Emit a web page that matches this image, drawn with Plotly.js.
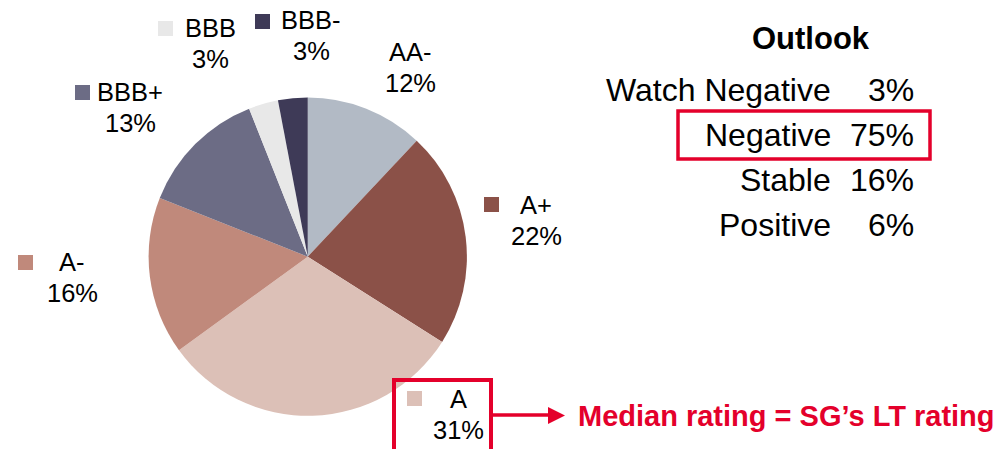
<!DOCTYPE html>
<html>
<head>
<meta charset="utf-8">
<script src="https://cdn.plot.ly/plotly-3.0.1.min.js"></script>
<style>
  html, body { margin: 0; padding: 0; background: #fff; }
  #chart { width: 1001px; height: 449px; }
</style>
</head>
<body>
<div id="chart"></div>
<script>
// Rating breakdown pie + outlook table

const ratings = ['AA-', 'A+', 'A', 'A-', 'BBB+', 'BBB', 'BBB-'];
const shares  = [12, 22, 31, 16, 13, 3, 3];

const outlookNames  = ['Watch Negative', 'Negative', 'Stable', 'Positive'];
const outlookShares = [3, 75, 16, 6];

const medianRating = 'A';
const highlightOutlook = 'Negative';

const sliceColors = ['#b2bac5', '#8b5148', '#dcc0b7', '#c0897b', '#6c6c85', '#e8e8e8', '#3e3a57'];
const RED = '#e4002b';
const FONT = 'Liberation Sans, Arial, sans-serif';

const W = 1001, H = 449;
const px = x => x / W;
const py = y => 1 - y / H;

// where each slice label sits (px): centre x, first-line y, legend square top-left
const labelSpots = {
    'AA-':  { cx: 410,   cy: 52,   sq: null },
    'A+':   { cx: 536,   cy: 205,  sq: [484, 197] },
    'A':    { cx: 458,   cy: 399,  sq: [407, 391] },
    'A-':   { cx: 72,    cy: 262,  sq: [18, 255] },
    'BBB+': { cx: 130,   cy: 92,   sq: [75, 85] },
    'BBB':  { cx: 210,   cy: 28,   sq: [158, 21] },
    'BBB-': { cx: 311,   cy: 20,   sq: [255, 14] },
};
const LINE_GAP = 31;
const SQ = 15;

const annotations = [];
const shapes = [];

ratings.forEach((r, i) => {
    const s = labelSpots[r];
    annotations.push({
        xref: 'paper', yref: 'paper', x: px(s.cx), y: py(s.cy),
        xanchor: 'center', yanchor: 'middle', showarrow: false,
        text: r, font: { family: FONT, size: 25.5, color: '#000' },
    });
    annotations.push({
        xref: 'paper', yref: 'paper', x: px(s.cx), y: py(s.cy + LINE_GAP),
        xanchor: 'center', yanchor: 'middle', showarrow: false,
        text: shares[i] + '%', font: { family: FONT, size: 25.5, color: '#000' },
    });
    if (s.sq) {
        shapes.push({
            type: 'rect', xref: 'paper', yref: 'paper',
            x0: px(s.sq[0]), x1: px(s.sq[0] + SQ),
            y0: py(s.sq[1] + SQ), y1: py(s.sq[1]),
            fillcolor: sliceColors[i], line: { width: 0 },
        });
    }
});

// outlook table
annotations.push({
    xref: 'paper', yref: 'paper', x: px(811), y: py(38),
    xanchor: 'center', yanchor: 'middle', showarrow: false,
    text: '<b>Outlook</b>', font: { family: FONT, size: 31, color: '#000' },
});
outlookNames.forEach((name, i) => {
    const y = 90 + i * 45;
    annotations.push({
        xref: 'paper', yref: 'paper', x: px(833), y: py(y),
        xanchor: 'right', yanchor: 'middle', showarrow: false,
        text: name, font: { family: FONT, size: 32, color: '#000' },
    });
    annotations.push({
        xref: 'paper', yref: 'paper', x: px(916), y: py(y),
        xanchor: 'right', yanchor: 'middle', showarrow: false,
        text: outlookShares[i] + '%', font: { family: FONT, size: 32, color: '#000' },
    });
    if (name === highlightOutlook) {
        shapes.push({
            type: 'rect', xref: 'paper', yref: 'paper',
            x0: px(678), x1: px(930), y0: py(y + 24), y1: py(y - 24),
            line: { color: RED, width: 3.5 },
        });
    }
});

// median rating callout
shapes.push({
    type: 'rect', xref: 'paper', yref: 'paper',
    x0: px(394), x1: px(491), y0: py(460), y1: py(380),
    line: { color: RED, width: 4 },
});
shapes.push({
    type: 'line', xref: 'paper', yref: 'paper',
    x0: px(491), x1: px(552), y0: py(415), y1: py(415),
    line: { color: RED, width: 3.5 },
});
shapes.push({
    type: 'path', xref: 'paper', yref: 'paper',
    path: `M ${px(548)} ${py(407)} L ${px(565)} ${py(415.5)} L ${px(548)} ${py(424)} Z`,
    fillcolor: RED, line: { width: 0 },
});
annotations.push({
    xref: 'paper', yref: 'paper', x: px(576), y: py(415.5),
    xanchor: 'left', yanchor: 'middle', showarrow: false,
    text: '<b>Median rating = SG\u2019s LT rating</b>',
    font: { family: FONT, size: 29, color: RED },
});

const trace = {
    type: 'pie',
    labels: ratings,
    values: shares,
    sort: false,
    direction: 'clockwise',
    rotation: 0,
    textinfo: 'none',
    hoverinfo: 'label+percent',
    marker: { colors: sliceColors, line: { width: 0 } },
    domain: { x: [px(148.5), px(467)], y: [py(415.8), py(97.5)] },
    showlegend: false,
};

const layout = {
    width: W, height: H,
    margin: { t: 0, r: 0, b: 0, l: 0 },
    paper_bgcolor: '#fff',
    plot_bgcolor: '#fff',
    font: { family: FONT, color: '#000' },
    showlegend: false,
    annotations,
    shapes,
};

Plotly.newPlot('chart', [trace], layout, { displayModeBar: false, staticPlot: true });
</script>
</body>
</html>
